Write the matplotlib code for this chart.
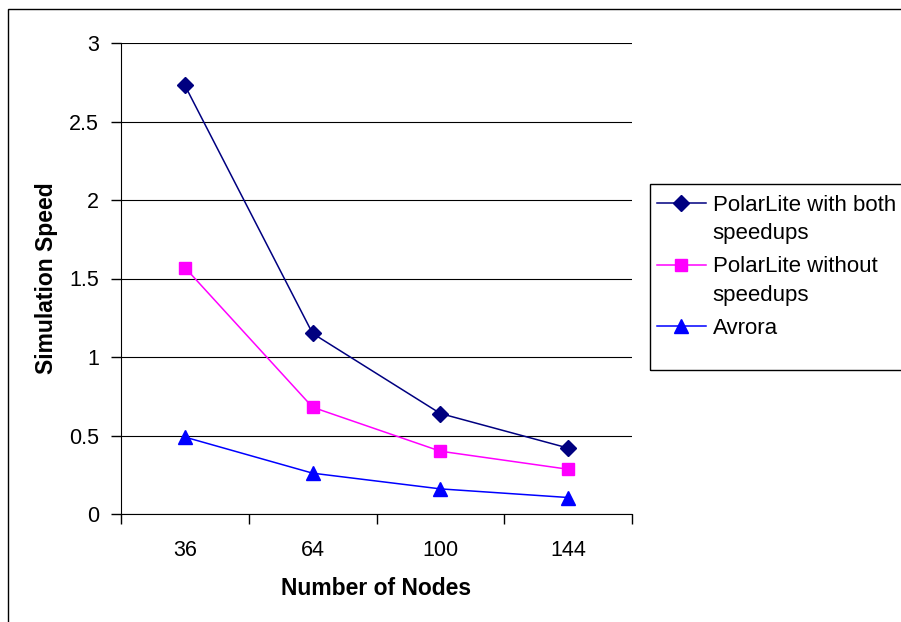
import matplotlib
matplotlib.use('Agg')
import matplotlib.pyplot as plt
from matplotlib.patches import Rectangle

plt.rcParams['font.family'] = ['Liberation Sans', 'DejaVu Sans']

# data
nodes = ['36', '64', '100', '144']
both_speedups = [2.73, 1.15, 0.64, 0.42]
no_speedups = [1.57, 0.68, 0.40, 0.285]
avrora = [0.49, 0.26, 0.16, 0.105]

W, H = 901, 622
fig = plt.figure(figsize=(W / 100, H / 100), dpi=100)
# outer chart border (top and left visible)
fig.patches.append(Rectangle((8 / W, -0.1), 1.2, 1 - 9 / H + 0.1,
                             transform=fig.transFigure, fill=False,
                             edgecolor='black', linewidth=1))
# legend box
fig.patches.append(Rectangle((650 / W, 1 - 370 / H), 0.3, 186 / H,
                             transform=fig.transFigure, fill=False,
                             edgecolor='black', linewidth=1))

ax = fig.add_axes([121 / W, 108 / H, 511 / W, 471 / H])
x = range(len(nodes))
ax.plot(x, both_speedups, color='#000080', marker='D', markersize=8.5,
        linewidth=1.1, label='PolarLite with both\nspeedups')
ax.plot(x, no_speedups, color='#FF00FF', marker='s', markersize=9,
        linewidth=1.1, label='PolarLite without\nspeedups')
ax.plot(x, avrora, color='#0000FF', marker='^', markersize=10.5,
        linewidth=1.1, label='Avrora')

ax.set_xlim(-0.5, 3.5)
ax.set_ylim(0, 3)
ax.set_yticks([0, 0.5, 1, 1.5, 2, 2.5, 3])
ax.set_yticklabels(['0', '0.5', '1', '1.5', '2', '2.5', '3'])
ax.set_xticks(list(x))
ax.set_xticklabels(nodes)
ax.set_xticks([-0.5, 0.5, 1.5, 2.5, 3.5], minor=True)
ax.tick_params(axis='x', which='major', length=0, pad=19, labelsize=15.5)
ax.tick_params(axis='x', which='minor', length=7, width=1, direction='out')
ax.tick_params(axis='y', length=7, width=1, direction='out', pad=9, labelsize=15.5)
ax.grid(axis='y', color='black', linewidth=0.8)
ax.set_axisbelow(True)
for s in ['top', 'right']:
    ax.spines[s].set_visible(False)

ax.set_xlabel('Number of Nodes', fontsize=16.5, fontweight='bold', labelpad=11)
ax.set_ylabel('Simulation Speed', fontsize=16.5, fontweight='bold', labelpad=8)

leg = ax.legend(loc='upper left', bbox_to_anchor=(657 / W, 1 - 195 / H),
                bbox_transform=fig.transFigure, fontsize=16, frameon=False,
                handlelength=2.2, handleheight=0.9, borderaxespad=0, borderpad=0,
                labelspacing=0.55, handletextpad=0.3)
for t in leg.get_texts():
    t.set_linespacing(1.45)
# put the handle next to the first line of a two-line label
for col in leg._legend_handle_box.get_children():
    for row in col.get_children():
        row.align = 'top'

fig.savefig('out.png', dpi=100)
